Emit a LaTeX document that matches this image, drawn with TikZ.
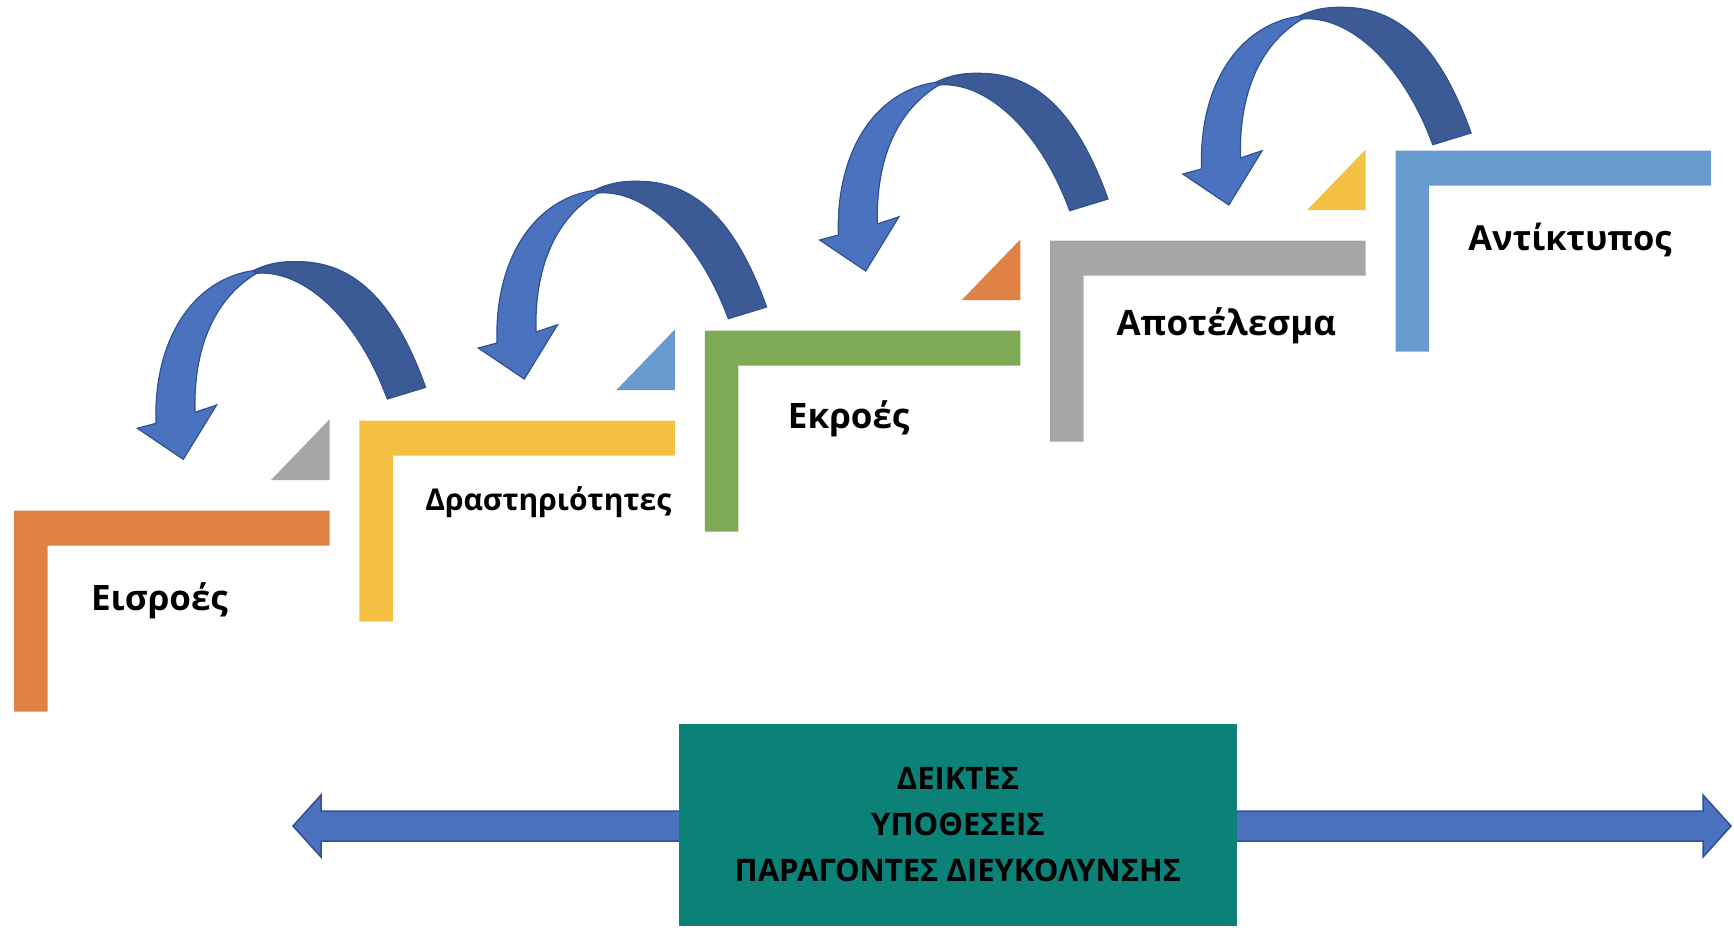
\documentclass[tikz,border=0pt]{standalone}
\usepackage{fontspec}
\setmainfont{Open Sans}
\usetikzlibrary{positioning}

\definecolor{stepOrange}{RGB}{224,130,70}
\definecolor{stepYellow}{RGB}{245,193,66}
\definecolor{stepGreen}{RGB}{127,170,85}
\definecolor{stepGray}{RGB}{166,166,166}
\definecolor{stepBlue}{RGB}{103,155,208}
\definecolor{loopDark}{RGB}{59,90,150}
\definecolor{loopLight}{RGB}{74,114,190}
\definecolor{loopLine}{RGB}{47,82,143}
\definecolor{boxTeal}{RGB}{12,129,119}

\begin{document}
\begin{tikzpicture}[x=1pt, y=-1pt]
    \tikzstyle{steptext} = [font=\bfseries\fontsize{35}{40}\selectfont,
	anchor=base, inner sep=0pt]
    \tikzstyle{loopback} = [fill=loopDark, draw=loopLine, line width=1.2pt]
    \tikzstyle{loopfront} = [fill=loopLight, draw=loopLine, line width=1.2pt]
    \tikzstyle{bothway} = [fill=loopLight, draw=loopLine, line width=1.5pt]
    \tikzstyle{infobox} = [fill=boxTeal, minimum width=558pt, minimum height=202pt,
	inner sep=0pt, align=center, font=\bfseries\fontsize{31}{46}\selectfont]

	\useasboundingbox (0,0) rectangle (1734,930);

	% the five steps
	\foreach \k/\col in {0/stepOrange, 1/stepYellow, 2/stepGreen, 3/stepGray, 4/stepBlue} {
		\begin{scope}[shift={({345.4*\k},{-90*\k})}]
			\fill[\col] (14,711.7) -- (14,510.7) -- (329.5,510.7) -- (329.5,545.7)
				-- (47.5,545.7) -- (47.5,711.7) -- cycle;
		\end{scope}
	}
	% small corner triangles
	\foreach \k/\col in {0/stepGray, 1/stepBlue, 2/stepOrange, 3/stepYellow} {
		\begin{scope}[shift={({345.4*\k},{-90*\k})}]
			\fill[\col] (271,480) -- (329.5,480) -- (329.5,419.4) -- cycle;
		\end{scope}
	}

	% curved arrows back to the previous step
	\foreach \tx/\ty in {183.3/459.3, 524.3/379, 865.7/271, 1228.8/205} {
		\begin{scope}[shift={(\tx,\ty)}]
			\path[loopback] (70,-188.7) .. controls (85,-196) and (98,-198) .. (113.3,-197.7)
				.. controls (175,-198) and (213.4,-152) .. (242.3,-72)
				-- (204,-60.3) .. controls (174,-142) and (120,-190) .. (73.3,-186) -- cycle;
			\path[loopfront] (73.3,-186) .. controls (30,-160) and (10,-110) .. (11.7,-47)
				-- (33.3,-54.3) -- (0,0) -- (-46,-31) -- (-27.3,-36)
				.. controls (-30,-120) and (10,-180) .. (70,-188.7) -- cycle;
		\end{scope}
	}

	\node[steptext] (inputs) at (159.5,610) {Εισροές};
	\node[steptext, font=\bfseries\fontsize{30}{34}\selectfont] (activities)
		at (548.3,510) {Δραστηριότητες};
	\node[steptext] (outputs) at (848.7,428.3) {Εκροές};
	\node[steptext] (outcome) at (1226.3,335) {Αποτέλεσμα};
	\node[steptext, font=\bfseries\fontsize{34.5}{40}\selectfont] (impact)
		at (1570,250.7) {Αντίκτυπος};

	% long double arrow behind the box
	\coordinate (lt) at (293,826);
	\coordinate (rt) at (1731,826);
	\draw[bothway] (lt) -- ++(28,-31) -- ++(0,16) -- ++(1382,0) -- ++(0,-16)
		-- (rt) -- ++(-28,31) -- ++(0,-16) -- ++(-1382,0) -- ++(0,16) -- cycle;

	\node[infobox] (ind) at (958,825)
		{ΔΕΙΚΤΕΣ\\ΥΠΟΘΕΣΕΙΣ\\ΠΑΡΑΓΟΝΤΕΣ ΔΙΕΥΚΟΛΥΝΣΗΣ};
\end{tikzpicture}
\end{document}
